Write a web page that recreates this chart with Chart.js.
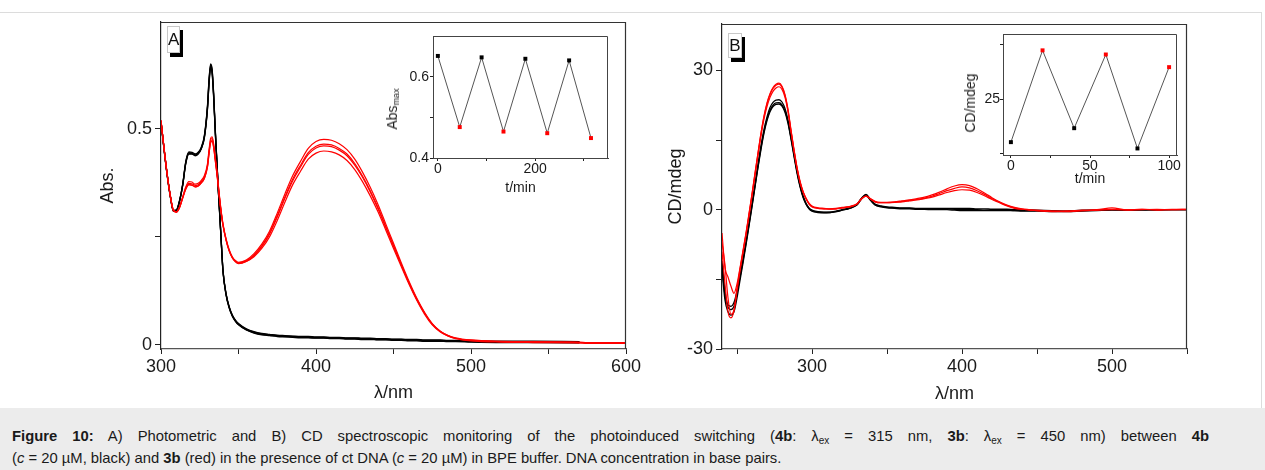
<!DOCTYPE html>
<html>
<head>
<meta charset="utf-8">
<title>Figure 10 – photoswitching of 4b / 3b with ct DNA</title>
<script src="https://cdn.jsdelivr.net/npm/chart.js@4.4.1/dist/chart.umd.min.js"></script>
<style>
  html, body { margin: 0; padding: 0; background: #fff; }
  body { position: relative; width: 1265px; height: 470px; overflow: hidden;
         font-family: "Liberation Sans", Arial, Helvetica, sans-serif; color: #1a1a1a; }
  .frame { position: absolute; left: -1px; top: 12px; width: 1263px; height: 396px;
           border-top: 1px solid #dcdcdc; border-right: 1px solid #dcdcdc; box-sizing: border-box; }
  canvas { position: absolute; }
  #panelA { left: 0; top: 0; }
  #panelB { left: 640px; top: 0; }
  #insetA { left: 380px; top: 20px; }
  #insetB { left: 955px; top: 20px; }
  .tag { position: absolute; background: #fff; border: 1px solid #c8c8c8; box-shadow: 3px 4px 0 #000;
         font-size: 17px; text-align: center; box-sizing: border-box; color: #111; }
  .vtitle { position: absolute; transform: translate(-50%, -50%) rotate(-90deg); white-space: nowrap;
            font-size: 14px; line-height: 16px; color: #222; }
  .vtitle sub { font-size: 9px; vertical-align: -2px; }
  .caption { position: absolute; left: 0; top: 408px; width: 1265px; height: 62px; background: #ececec;
             box-sizing: border-box; padding: 17px 0 0 12px; font-size: 14.8px; line-height: 22px; color: #1a1a1a; }
  .caption .l1 { width: 1197px; text-align: justify; text-align-last: justify; }
  .caption .l2 { text-align: left; }
  .caption sub { font-size: 10px; vertical-align: -3px; line-height: 0; }
</style>
</head>
<body>
<div class="frame"></div>
<canvas id="panelA" width="660" height="408"></canvas>
<canvas id="panelB" width="622" height="408"></canvas>
<canvas id="insetA" width="240" height="183"></canvas>
<canvas id="insetB" width="245" height="180"></canvas>

<div class="tag" style="left:167px;top:26px;width:13px;height:27px;line-height:25px;">A</div>
<div class="tag" style="left:728px;top:33px;width:14px;height:25px;line-height:23px;">B</div>
<div class="vtitle" style="left:394px;top:109px;">Abs<sub>max</sub></div>
<div class="vtitle" style="left:970px;top:103px;">CD/mdeg</div>

<div class="caption">
  <div class="l1"><b>Figure 10:</b> A) Photometric and B) CD spectroscopic monitoring of the photoinduced switching (<b>4b</b>: λ<sub>ex</sub> = 315 nm, <b>3b</b>: λ<sub>ex</sub> = 450 nm) between <b>4b</b></div>
  <div class="l2">(<i>c</i> = 20 µM, black) and <b>3b</b> (red) in the presence of ct DNA (<i>c</i> = 20 µM) in BPE buffer. DNA concentration in base pairs.</div>
</div>

<script>
// ---------- Panel A: UV/Vis absorption spectra ----------
const wavelengthA = [300,302,304,306,308,310,312,314,316,318,320,322,324,326,328,
  330,331,332,333,334,335,336,337,338,339,340,
  342,344,346,348,350,
  355,360,365,370,375,380,385,390,395,400,405,410,415,420,425,430,435,440,445,450,455,460,465,470,475,480,485,490,
  500,520,540,570,575,600];

// 4b (open form), four repeated cycles
const absBlack1 = [0.518,0.453,0.394,0.345,0.311,0.312,0.334,0.372,0.425,0.447,0.446,0.442,0.446,0.458,0.485,
  0.555,0.615,0.651,0.638,0.580,0.500,0.430,0.360,0.298,0.232,0.172,
  0.118,0.088,0.069,0.057,0.049,
  0.037,0.030,0.026,0.024,0.022,0.021,0.020,0.019,0.019,0.018,0.018,0.017,0.017,0.016,0.016,0.015,0.015,0.014,0.014,0.013,0.013,0.012,0.012,0.011,0.011,0.011,0.010,0.010,
  0.009,0.008,0.008,0.007,null,null];
const absBlack2 = [0.518,0.453,0.394,0.345,0.311,0.313,0.335,0.371,0.423,0.445,0.444,0.440,0.444,0.456,0.483,
  0.552,0.612,0.648,0.635,0.577,0.497,0.428,0.358,0.296,0.231,0.171,
  0.117,0.087,0.068,0.056,0.048,
  0.036,0.029,0.025,0.023,0.021,0.020,0.019,0.018,0.018,0.017,0.017,0.016,0.016,0.015,0.015,0.014,0.014,0.013,0.013,0.012,0.012,0.011,0.011,0.010,0.010,0.010,0.009,0.009,
  0.008,0.007,0.007,0.006,null,null];
const absBlack3 = [0.517,0.452,0.393,0.344,0.310,0.311,0.333,0.370,0.421,0.443,0.443,0.439,0.443,0.455,0.481,
  0.549,0.608,0.644,0.631,0.574,0.495,0.426,0.357,0.295,0.230,0.170,
  0.116,0.086,0.067,0.055,0.047,
  0.035,0.028,0.024,0.022,0.020,0.019,0.018,0.017,0.017,0.016,0.016,0.015,0.015,0.014,0.014,0.013,0.013,0.012,0.012,0.011,0.011,0.010,0.010,0.009,0.009,0.009,0.008,0.008,
  0.007,0.006,0.006,0.005,null,null];
const absBlack4 = [0.516,0.451,0.392,0.343,0.309,0.310,0.332,0.369,0.420,0.442,0.442,0.438,0.442,0.454,0.480,
  0.546,0.605,0.640,0.628,0.571,0.493,0.424,0.355,0.293,0.229,0.169,
  0.115,0.085,0.066,0.054,0.046,
  0.034,0.027,0.023,0.021,0.019,0.018,0.017,0.016,0.016,0.015,0.015,0.014,0.014,0.013,0.013,0.012,0.012,0.011,0.011,0.010,0.010,0.009,0.009,0.008,0.008,0.008,0.007,0.007,
  0.006,0.005,0.005,0.004,null,null];

// 3b (closed form), four repeated cycles
const absRed1 = [0.520,0.455,0.395,0.346,0.312,0.308,0.320,0.343,0.366,0.378,0.377,0.372,0.374,0.381,0.392,
  0.420,0.452,0.478,0.482,0.465,0.435,0.405,0.370,0.335,0.305,0.280,
  0.245,0.220,0.204,0.195,0.191,
  0.196,0.211,0.233,0.263,0.305,0.350,0.392,0.425,0.455,0.471,0.476,0.474,0.466,0.452,0.430,0.400,0.365,0.325,0.280,0.235,0.190,0.147,0.108,0.075,0.049,0.032,0.022,0.016,
  0.011,0.008,0.007,0.006,0.005,0.005];
const absRed2 = [0.519,0.454,0.394,0.345,0.311,0.307,0.318,0.340,0.361,0.371,0.370,0.366,0.368,0.375,0.386,
  0.413,0.444,0.469,0.473,0.457,0.428,0.399,0.365,0.331,0.302,0.277,
  0.243,0.218,0.202,0.193,0.189,
  0.194,0.208,0.229,0.258,0.299,0.343,0.384,0.416,0.445,0.460,0.465,0.463,0.455,0.442,0.420,0.391,0.357,0.318,0.274,0.230,0.186,0.144,0.106,0.074,0.048,0.031,0.021,0.015,
  0.010,0.007,0.006,0.005,0.004,0.004];
const absRed3 = [0.519,0.454,0.394,0.345,0.311,0.307,0.318,0.340,0.361,0.371,0.370,0.366,0.368,0.375,0.386,
  0.412,0.443,0.468,0.472,0.456,0.427,0.398,0.364,0.330,0.301,0.276,
  0.242,0.217,0.201,0.192,0.188,
  0.193,0.206,0.227,0.256,0.296,0.340,0.380,0.412,0.441,0.456,0.461,0.459,0.451,0.438,0.416,0.388,0.354,0.315,0.272,0.228,0.185,0.143,0.105,0.073,0.047,0.031,0.021,0.015,
  0.010,0.007,0.006,0.005,0.004,0.004];
const absRed4 = [0.520,0.455,0.395,0.346,0.312,0.308,0.319,0.341,0.363,0.374,0.373,0.369,0.371,0.378,0.389,
  0.416,0.448,0.474,0.478,0.461,0.432,0.402,0.368,0.333,0.303,0.278,
  0.243,0.218,0.202,0.193,0.189,
  0.193,0.204,0.223,0.250,0.288,0.331,0.371,0.402,0.430,0.444,0.449,0.447,0.440,0.427,0.406,0.378,0.345,0.308,0.266,0.223,0.181,0.140,0.103,0.071,0.046,0.030,0.020,0.014,
  0.009,0.006,0.005,0.004,0.003,0.003];

const xTicksA = [300, 350, 400, 450, 500, 550, 600];
const xTickLabelsA = ['300', '', '400', '', '500', '', '600'];
const yTicksA = [0, 0.25, 0.5];
const yTickLabelsA = ['0', '', '0.5'];

// ---------- Inset A: absorbance maximum over switching cycles ----------
const cycleTimeA = [0, 45, 90, 135, 180, 225, 270, 315];
const absMaxA = [0.651, 0.476, 0.6475, 0.465, 0.644, 0.461, 0.640, 0.449];
const insetXTicksA = [0, 100, 200, 300];
const insetXLabelsA = ['0', '', '200', ''];
const insetYTicksA = [0.4, 0.5, 0.6];
const insetYLabelsA = ['0.4', '', '0.6'];

// ---------- Panel B: CD spectra ----------
const wavelengthB = [240,242,244,246,248,250,252,254,256,258,260,262,264,266,268,270,272,274,276,278,280,282,284,286,288,290,292,294,296,298,300,
  304,308,312,316,320,
  325,330,333,336,339,342,346,350,
  355,360,365,370,375,380,385,390,395,400,405,410,415,420,425,430,435,440,
  450,460,470,480,490,500,510,520,530,540,550];

const cdRed1 = [-7.0,-12.0,-19.0,-22.5,-21.5,-17.0,-12.8,-9.0,-5.2,-1.0,3.3,7.8,12.2,16.5,20.2,23.0,25.0,26.3,27.0,27.25,26.6,24.8,21.6,17.2,13.0,9.2,6.2,4.0,2.5,1.4,0.8,
  0.4,0.3,0.2,0.3,0.5,
  0.7,1.3,2.4,3.0,2.4,1.8,1.6,1.6,
  1.7,1.9,2.1,2.4,2.7,3.2,3.8,4.5,5.1,5.4,5.2,4.5,3.6,2.6,1.7,1.0,0.5,0.2,
  -0.1,-0.3,-0.3,-0.1,0.0,0.4,0.0,0.1,0.0,0.1,0.1];
const cdRed2 = [-5.0,-12.5,-14.5,-16.5,-18.0,-16.0,-12.5,-8.8,-5.0,-0.8,3.4,7.9,12.2,16.4,20.0,22.8,24.8,26.1,26.8,27.06,26.4,24.6,21.4,17.0,12.8,9.0,6.0,3.9,2.4,1.3,0.7,
  0.3,0.2,0.1,0.2,0.4,
  0.6,1.2,2.3,2.9,2.3,1.7,1.5,1.5,
  1.6,1.8,2.0,2.2,2.5,2.9,3.5,4.1,4.6,4.9,4.7,4.1,3.3,2.4,1.6,0.9,0.4,0.1,
  -0.2,-0.4,-0.3,-0.2,-0.1,0.1,-0.1,0.0,0.1,0.0,0.1];
const cdRed3 = [-9.0,-16.0,-22.0,-23.3,-21.8,-17.5,-13.2,-9.3,-5.5,-1.4,2.9,7.3,11.7,15.9,19.5,22.2,24.2,25.5,26.2,26.48,25.9,24.2,21.1,16.8,12.7,8.9,5.9,3.8,2.3,1.2,0.6,
  0.3,0.2,0.2,0.2,0.4,
  0.6,1.2,2.3,2.9,2.3,1.7,1.5,1.5,
  1.6,1.7,1.9,2.1,2.4,2.7,3.2,3.7,4.1,4.3,4.2,3.7,3.0,2.2,1.5,0.8,0.3,0.1,
  -0.2,-0.3,-0.4,-0.2,-0.1,0.0,0.0,0.1,-0.1,0.0,0.0];
const cdBlack1 = [-12.0,-18.5,-21.0,-21.5,-20.8,-18.0,-14.6,-11.0,-7.2,-3.2,0.9,5.1,9.3,13.3,16.8,19.5,21.4,22.5,23.0,23.04,22.6,21.3,18.9,15.5,11.8,8.2,5.2,2.9,1.3,0.3,-0.2,
  -0.5,-0.6,-0.6,-0.4,-0.1,
  0.3,1.1,2.4,3.2,2.1,1.1,0.7,0.5,
  0.4,0.3,0.3,0.2,0.2,0.2,0.2,0.2,0.1,0.0,0.0,0.0,-0.1,-0.1,-0.1,-0.1,-0.2,-0.2,
  -0.2,-0.3,-0.3,-0.2,-0.1,0.0,-0.1,0.0,0.0,0.0,0.0];
const cdBlack2 = [-11.0,-17.5,-20.5,-20.8,-20.0,-17.5,-14.0,-10.5,-6.8,-2.8,1.3,5.5,9.8,13.8,17.3,20.0,22.0,23.1,23.6,23.68,23.2,21.8,19.3,15.8,12.0,8.4,5.3,3.0,1.4,0.4,-0.1,
  -0.4,-0.5,-0.5,-0.3,0.0,
  0.4,1.2,2.5,3.3,2.2,1.2,0.8,0.6,
  0.5,0.4,0.4,0.3,0.3,0.3,0.3,0.3,0.3,0.3,0.3,0.2,0.2,0.1,0.1,0.1,0.0,0.0,
  -0.1,-0.2,-0.3,-0.1,-0.1,0.0,-0.1,0.0,-0.1,0.0,0.0];
const cdBlack3 = [-13.0,-19.5,-22.0,-22.7,-22.0,-19.0,-15.2,-11.5,-7.6,-3.5,0.6,4.9,9.1,13.0,16.5,19.2,21.1,22.2,22.7,22.75,22.3,21.0,18.6,15.2,11.5,7.9,5.0,2.7,1.2,0.2,-0.3,
  -0.6,-0.7,-0.6,-0.4,-0.1,
  0.3,1.0,2.3,3.1,2.0,1.0,0.6,0.4,
  0.3,0.2,0.2,0.1,0.1,0.0,0.0,0.0,-0.1,-0.2,-0.2,-0.2,-0.2,-0.2,-0.2,-0.2,-0.2,-0.3,
  -0.3,-0.4,-0.4,-0.3,-0.2,-0.1,-0.1,-0.1,0.0,0.0,0.0];

const xTicksB = [250, 300, 350, 400, 450, 500, 550];
const xTickLabelsB = ['', '300', '', '400', '', '500', ''];
const yTicksB = [-30, -15, 0, 15, 30];
const yTickLabelsB = ['-30', '', '0', '', '30'];

// ---------- Inset B: CD maximum over switching cycles ----------
const cycleTimeB = [0, 20, 40, 60, 80, 100];
const cdMaxB = [23.04, 27.25, 23.68, 27.06, 22.75, 26.48];
const insetXTicksB = [0, 25, 50, 75, 100];
const insetXLabelsB = ['0', '', '50', '', '100'];
const insetYTicksB = [22.5, 25, 27.5];
const insetYLabelsB = ['', '25', ''];

// ---------- drawing ----------
const RED = '#ff0000';
const BLACK = '#000000';
const TEXT = '#1a1a1a';

Chart.defaults.font.family = '"Liberation Sans", Arial, Helvetica, sans-serif';
Chart.defaults.color = TEXT;

function points(xs, ys) { return xs.map((x, i) => ({ x: x, y: ys[i] })); }

// closes the plot box on the top and right sides
const boxFrame = {
  id: 'boxFrame',
  afterDatasetsDraw(chart, args, opts) {
    const a = chart.chartArea, ctx = chart.ctx;
    ctx.save();
    ctx.strokeStyle = opts.color || '#333';
    ctx.lineWidth = opts.width || 1;
    ctx.beginPath();
    ctx.moveTo(a.left, a.top + 0.5);
    ctx.lineTo(a.right - 0.5, a.top + 0.5);
    ctx.lineTo(a.right - 0.5, a.bottom);
    ctx.stroke();
    ctx.restore();
  }
};

function axis(o) {
  return {
    type: 'linear',
    position: o.position,
    min: o.min, max: o.max,
    afterBuildTicks: s => { s.ticks = o.ticks.map(v => ({ value: v })); },
    afterFit: s => { if (o.position === 'bottom') s.height = o.size; else s.width = o.size; },
    grid: { drawOnChartArea: false, drawTicks: true, tickLength: o.tickLength, tickColor: o.tickColor || '#222', tickWidth: 1 },
    border: { display: true, color: o.borderColor, width: o.borderWidth || 1 },
    ticks: { autoSkip: false, maxRotation: 0, minRotation: 0, padding: o.pad, color: TEXT,
             font: { size: o.font }, callback: (v, i) => o.labels[i] },
    title: o.title ? { display: true, text: o.title, color: TEXT, font: { size: o.font }, padding: o.titlePad } : { display: false }
  };
}

function spectrum(xs, ys, color, width) {
  return { data: points(xs, ys), borderColor: color, borderWidth: width, pointRadius: 0,
           cubicInterpolationMode: 'monotone', fill: false };
}

const common = {
  responsive: false, maintainAspectRatio: false, devicePixelRatio: 1, animation: false, events: [],
  plugins: { legend: { display: false }, tooltip: { enabled: false } }
};

// Panel A
new Chart(document.getElementById('panelA'), {
  type: 'line',
  data: { datasets: [
    spectrum(wavelengthA, absRed1, RED, 1.2),
    spectrum(wavelengthA, absRed2, RED, 1.2),
    spectrum(wavelengthA, absRed3, RED, 1.2),
    spectrum(wavelengthA, absRed4, RED, 1.2),
    spectrum(wavelengthA, absBlack1, BLACK, 1.3),
    spectrum(wavelengthA, absBlack2, BLACK, 1.3),
    spectrum(wavelengthA, absBlack3, BLACK, 1.3),
    spectrum(wavelengthA, absBlack4, BLACK, 1.3)
  ] },
  options: Object.assign({}, common, {
    layout: { padding: { left: 0, top: 22, right: 34, bottom: 0 } },
    scales: {
      x: axis({ position: 'bottom', min: 300, max: 600, ticks: xTicksA, labels: xTickLabelsA, size: 59,
                tickLength: 5, borderColor: '#555', borderWidth: 1.2, pad: 2, font: 18,
                title: 'λ/nm', titlePad: { top: 0, bottom: 4 } }),
      y: axis({ position: 'left', min: -0.01, max: 0.748, ticks: yTicksA, labels: yTickLabelsA, size: 161,
                tickLength: 6, borderColor: '#222', borderWidth: 1.2, pad: 3, font: 18,
                title: 'Abs.', titlePad: { top: 97, bottom: 0 } })
    },
    plugins: Object.assign({}, common.plugins, { boxFrame: { color: '#333', width: 1.2 } })
  }),
  plugins: [boxFrame]
});

// Panel B
new Chart(document.getElementById('panelB'), {
  type: 'line',
  data: { datasets: [
    spectrum(wavelengthB, cdRed1, RED, 1.2),
    spectrum(wavelengthB, cdRed2, RED, 1.2),
    spectrum(wavelengthB, cdRed3, RED, 1.2),
    spectrum(wavelengthB, cdBlack1, BLACK, 1.3),
    spectrum(wavelengthB, cdBlack2, BLACK, 1.3),
    spectrum(wavelengthB, cdBlack3, BLACK, 1.3)
  ] },
  options: Object.assign({}, common, {
    layout: { padding: { left: 0, top: 24, right: 75, bottom: 0 } },
    scales: {
      x: axis({ position: 'bottom', min: 240, max: 550, ticks: xTicksB, labels: xTickLabelsB, size: 59,
                tickLength: 5, borderColor: '#555', borderWidth: 1.2, pad: 2, font: 18,
                title: 'λ/nm', titlePad: { top: 0, bottom: 3 } }),
      y: axis({ position: 'left', min: -30, max: 40, ticks: yTicksB, labels: yTickLabelsB, size: 82,
                tickLength: 6, borderColor: '#222', borderWidth: 1.2, pad: 3, font: 18,
                title: 'CD/mdeg', titlePad: { top: 25, bottom: 0 } })
    },
    plugins: Object.assign({}, common.plugins, { boxFrame: { color: '#333', width: 1.2 } })
  }),
  plugins: [boxFrame]
});

function cycleSeries(xs, ys) {
  return { data: points(xs, ys), borderColor: '#555', borderWidth: 1, tension: 0,
           pointStyle: 'rect', pointRadius: 2.8, pointBorderWidth: 0,
           pointBackgroundColor: c => (c.dataIndex % 2 ? RED : BLACK), fill: false };
}

// Inset A
new Chart(document.getElementById('insetA'), {
  type: 'line',
  data: { datasets: [cycleSeries(cycleTimeA, absMaxA)] },
  options: Object.assign({}, common, {
    layout: { padding: { left: 0, top: 16, right: 12, bottom: 0 } },
    scales: {
      x: axis({ position: 'bottom', min: -10, max: 350, ticks: insetXTicksA, labels: insetXLabelsA, size: 45,
                tickLength: 3, borderColor: '#444', pad: 0, font: 14,
                title: 't/min', titlePad: { top: 0, bottom: 6 } }),
      y: axis({ position: 'left', min: 0.4, max: 0.7, ticks: insetYTicksA, labels: insetYLabelsA, size: 53,
                tickLength: 3, borderColor: '#444', pad: 1, font: 14 })
    },
    plugins: Object.assign({}, common.plugins, { boxFrame: { color: '#444', width: 1 } })
  }),
  plugins: [boxFrame]
});

// Inset B
new Chart(document.getElementById('insetB'), {
  type: 'line',
  data: { datasets: [cycleSeries(cycleTimeB, cdMaxB)] },
  options: Object.assign({}, common, {
    layout: { padding: { left: 0, top: 14, right: 23, bottom: 0 } },
    scales: {
      x: axis({ position: 'bottom', min: -5, max: 105, ticks: insetXTicksB, labels: insetXLabelsB, size: 45,
                tickLength: 3, borderColor: '#444', pad: 0, font: 14,
                title: 't/min', titlePad: { top: 0, bottom: 12 } }),
      y: axis({ position: 'left', min: 22.45, max: 28.0, ticks: insetYTicksB, labels: insetYLabelsB, size: 48,
                tickLength: 3, borderColor: '#444', pad: 0, font: 14 })
    },
    plugins: Object.assign({}, common.plugins, { boxFrame: { color: '#444', width: 1 } })
  }),
  plugins: [boxFrame]
});
</script>
</body>
</html>
